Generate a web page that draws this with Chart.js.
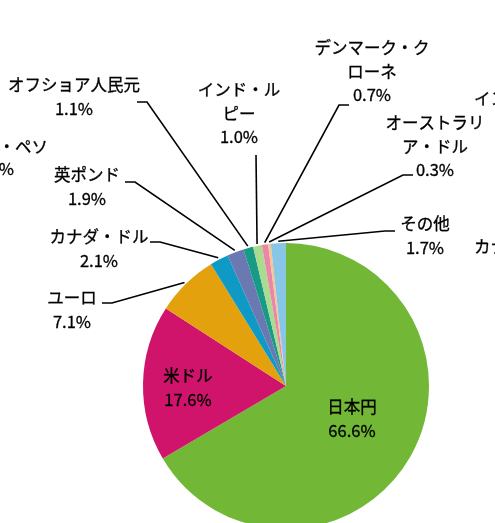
<!DOCTYPE html>
<html>
<head>
<meta charset="utf-8">
<script src="https://cdn.jsdelivr.net/npm/chart.js@4"></script>
<style>
  html, body { margin: 0; padding: 0; background: #fff; overflow: hidden; }
  #wrap { width: 495px; height: 523px; overflow: hidden; }
  canvas { display: block; }
</style>
</head>
<body>
<div id="wrap"><canvas id="currencyPie" width="495" height="600"></canvas></div>
<script>
// Data
const categories = ["日本円", "米ドル", "ユーロ", "カナダ・ドル", "英ポンド", "オフショア人民元", "インド・ルピー", "デンマーク・クローネ", "オーストラリア・ドル", "その他"];
const shares = [66.6, 17.6, 7.1, 2.1, 1.9, 1.1, 1.0, 0.7, 0.3, 1.7];
const sliceColors = ["#72b836", "#d0146c", "#e2a10d", "#0f9ac6", "#6a79b2", "#179b86", "#a9dc8e", "#ea86a8", "#f8c58c", "#88c6e7"];

// labels of the neighbouring chart that are cut by the picture edge
const clippedLabels = ["メキシコ・ペソ", "0.2%", "インドネシア・ルピア", "カナダ・ドル"];

// where each label sits (x = centre, y = first line), split = line break, elbow = leader line bend
const labelLayout = [
  { x: 352, y: 407, inside: true },
  { x: 188, y: 376, inside: true },
  { x: 72, y: 298, elbow: [102, 112, 303] },
  { x: 99, y: 237, elbow: [150, 160, 242] },
  { x: 87, y: 175, elbow: [125, 135, 182] },
  { x: 74, y: 85, elbow: [137, 147, 102] },
  { x: 239, y: 90, split: 5, elbow: [256, 256, 155] },
  { x: 372, y: 48, split: 7, elbow: [349, 339, 105] },
  { x: 435, y: 123, split: 6, elbow: [413, 403, 175] },
  { x: 425, y: 224, elbow: [395, 385, 231] },
];
const clippedLayout = [
  { x: 48, y: 147, align: "right" },
  { x: 14, y: 169, align: "right" },
  { x: 474, y: 99, align: "left" },
  { x: 474, y: 247, align: "left" },
];

const FONT = "16.5px 'Noto Sans CJK JP', 'Noto Sans', sans-serif";
const LINE_H = 23.5;

const sliceLabels = {
  id: "sliceLabels",
  afterDatasetsDraw(chart) {
    const ctx = chart.ctx;
    const arcs = chart.getDatasetMeta(0).data;
    ctx.save();
    ctx.font = FONT;
    ctx.fillStyle = "#000";
    ctx.textBaseline = "middle";
    ctx.textAlign = "center";
    // a hair of stroke so the text reads as heavy as the original
    const put = (t, x, y) => {
      ctx.fillText(t, x, y);
      ctx.lineWidth = 0.3;
      ctx.strokeStyle = "#000";
      ctx.strokeText(t, x, y);
    };
    labelLayout.forEach((lay, i) => {
      const name = categories[i];
      const lines = lay.split ? [name.slice(0, lay.split), name.slice(lay.split)] : [name];
      lines.push(shares[i].toFixed(1) + "%");
      lines.forEach((t, k) => put(t, lay.x, lay.y + k * LINE_H));

      if (lay.elbow) {
        const arc = arcs[i];
        const mid = (arc.startAngle + arc.endAngle) / 2;
        const r = arc.outerRadius + 2;
        const px = arc.x + Math.cos(mid) * r;
        const py = arc.y + Math.sin(mid) * r;
        ctx.beginPath();
        ctx.strokeStyle = "#000";
        ctx.lineWidth = 1.6;
        ctx.moveTo(lay.elbow[0], lay.elbow[2]);
        ctx.lineTo(lay.elbow[1], lay.elbow[2]);
        ctx.lineTo(px, py);
        ctx.stroke();
      }
    });
    clippedLabels.forEach((t, i) => {
      const c = clippedLayout[i];
      ctx.textAlign = c.align;
      put(t, c.x, c.y);
    });
    ctx.restore();
  }
};

const ctx = document.getElementById("currencyPie").getContext("2d");

const currencyPie = new Chart(ctx, {
  type: "pie",
  data: {
    labels: categories,
    datasets: [
      {
        data: shares,
        backgroundColor: sliceColors,
        borderWidth: 0,
        hoverOffset: 0,
      },
    ],
  },
  options: {
    responsive: false,
    animation: false,
    layout: {
      padding: { left: 143, right: 66, top: 243, bottom: 71 },
    },
    plugins: {
      legend: { display: false },
      tooltip: { enabled: false },
    },
  },
  plugins: [sliceLabels],
});
</script>
</body>
</html>
